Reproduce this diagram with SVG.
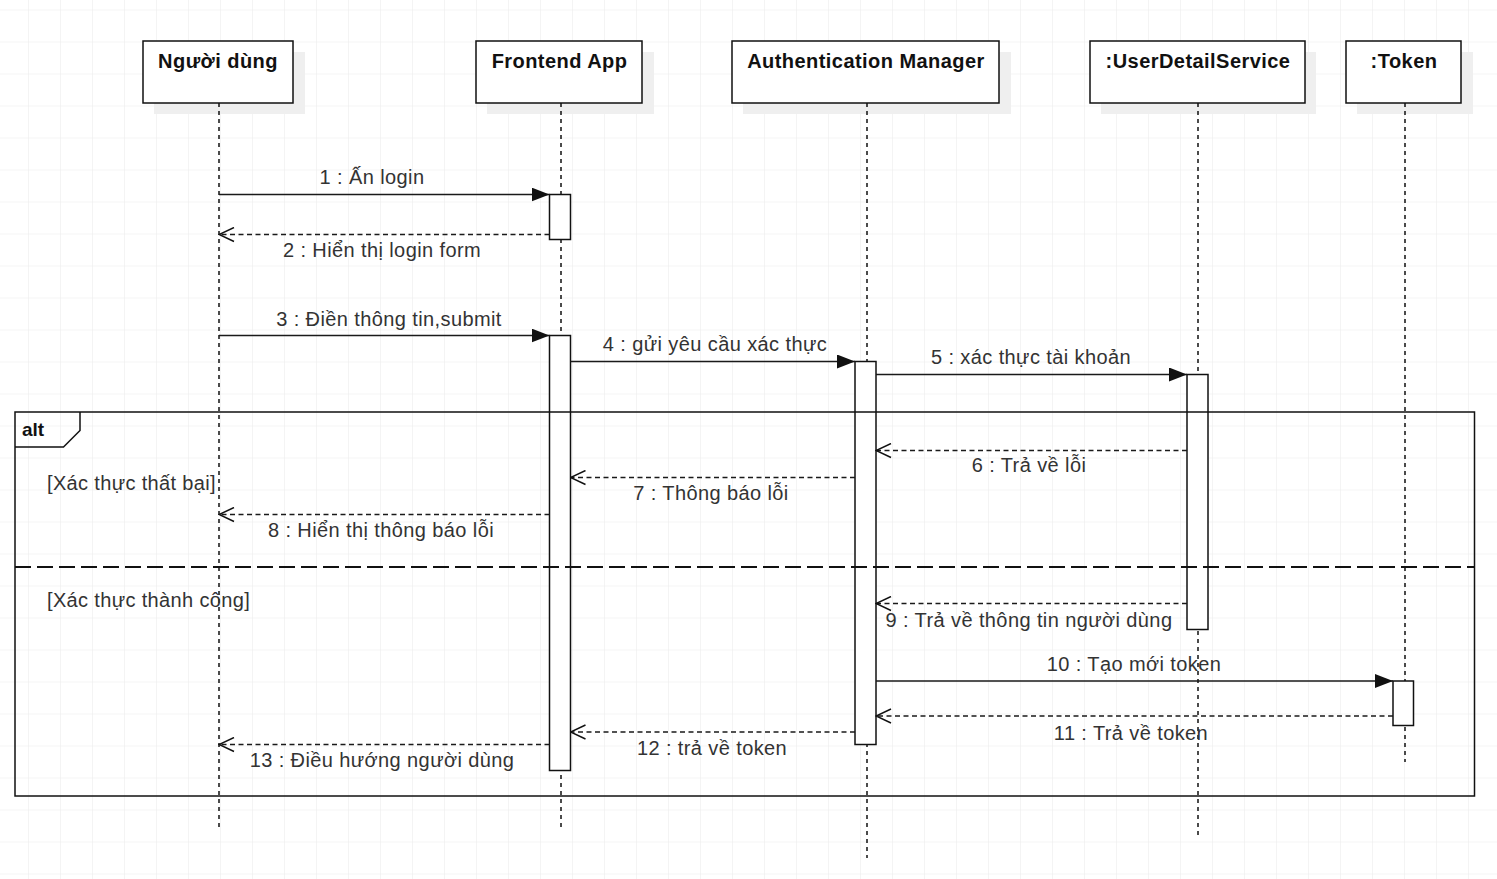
<svg xmlns="http://www.w3.org/2000/svg" width="1497" height="879" viewBox="0 0 1497 879">
<defs>
<pattern id="grid" x="28" y="9.5" width="32" height="32" patternUnits="userSpaceOnUse">
<path d="M0 0H32M0 0V32" fill="none" stroke="#e9e9e9" stroke-width="1"/>
</pattern>
<marker id="filled" viewBox="0 0 18 14" refX="18" refY="7" markerWidth="18" markerHeight="14" markerUnits="userSpaceOnUse" orient="auto">
<path d="M0 0L18 7L0 14Z" fill="#111"/>
</marker>
<marker id="open" viewBox="0 0 18 16" refX="17" refY="8" markerWidth="18" markerHeight="16" markerUnits="userSpaceOnUse" orient="auto">
<path d="M2 1L17 8L2 15" fill="none" stroke="#111" stroke-width="1.5"/>
</marker>
</defs>
<style>
.hdr{fill:#fff;stroke:#111;stroke-width:1.5}
.shadow{fill:#efefef;stroke:none}
.hdrtxt{font-family:"Liberation Sans",Arial,sans-serif;font-size:20px;font-weight:bold;fill:#111;text-anchor:middle;letter-spacing:0.45px}
.life{stroke:#111;stroke-width:1.5;stroke-dasharray:4 4;fill:none}
.act{fill:#fff;stroke:#111;stroke-width:1.5}
.msg{stroke:#1a1a1a;stroke-width:1.6;fill:none;marker-end:url(#filled)}
.ret{stroke:#1a1a1a;stroke-width:1.5;fill:none;stroke-dasharray:5 3.5;marker-end:url(#open)}
.lbl{font-family:"Liberation Sans",Arial,sans-serif;font-size:20px;fill:#333;text-anchor:middle;letter-spacing:0.4px}
.guard{font-family:"Liberation Sans",Arial,sans-serif;font-size:20px;fill:#333;letter-spacing:0.35px}
.frame{fill:none;stroke:#111;stroke-width:1.5}
</style>
<rect width="1497" height="879" fill="#fff"/>
<rect width="1497" height="879" fill="url(#grid)"/>

<g id="node-nguoidung">
<rect class="shadow" x="154" y="52" width="151" height="62"/>
<rect class="hdr" x="143" y="41" width="150" height="62"/>
<text class="hdrtxt" x="218" y="67.5">Người dùng</text>
<line class="life" x1="219" y1="103" x2="219" y2="830"/>
</g>

<g id="node-frontend">
<rect class="shadow" x="487" y="52" width="167" height="62"/>
<rect class="hdr" x="476" y="41" width="166" height="62"/>
<text class="hdrtxt" x="559.5" y="67.5">Frontend App</text>
<line class="life" x1="561" y1="103" x2="561" y2="830"/>
<rect class="act" x="549.5" y="194.5" width="21" height="45"/>
<rect class="act" x="549.5" y="335.5" width="21" height="435"/>
</g>

<g id="node-authmanager">
<rect class="shadow" x="743" y="52" width="268" height="62"/>
<rect class="hdr" x="732" y="41" width="267" height="62"/>
<text class="hdrtxt" x="866" y="67.5">Authentication Manager</text>
<line class="life" x1="867" y1="103" x2="867" y2="858"/>
<rect class="act" x="855" y="361.5" width="21" height="383"/>
</g>

<g id="node-userdetailservice">
<rect class="shadow" x="1101" y="52" width="215" height="62"/>
<rect class="hdr" x="1090" y="41" width="215" height="62"/>
<text class="hdrtxt" x="1198" y="67.5">:UserDetailService</text>
<line class="life" x1="1198" y1="103" x2="1198" y2="836"/>
<rect class="act" x="1187" y="374.5" width="21" height="255"/>
</g>

<g id="node-token">
<rect class="shadow" x="1357" y="52" width="116" height="62"/>
<rect class="hdr" x="1346" y="41" width="115" height="62"/>
<text class="hdrtxt" x="1404" y="67.5">:Token</text>
<line class="life" x1="1405" y1="103" x2="1405" y2="762"/>
<rect class="act" x="1393" y="681" width="20.5" height="44.5"/>
</g>

<g id="frame-alt">
<rect class="frame" x="15" y="412" width="1459.5" height="384"/>
<path class="frame" d="M15 447H63.5L80 430.5V412"/>
<text x="22" y="436" font-family="'Liberation Sans',Arial,sans-serif" font-size="19" font-weight="bold" fill="#111">alt</text>
<line x1="15" y1="567" x2="1474.5" y2="567" stroke="#111" stroke-width="2" stroke-dasharray="16 6"/>
<text class="guard" x="47" y="490">[Xác thực thất bại]</text>
<text class="guard" x="47" y="607">[Xác thực thành công]</text>
</g>

<g id="connectors">
<line class="msg" x1="219" y1="194.5" x2="549.5" y2="194.5"/>
<line class="ret" x1="549.5" y1="234.5" x2="219" y2="234.5"/>
<line class="msg" x1="219" y1="335.5" x2="549.5" y2="335.5"/>
<line class="msg" x1="570.5" y1="361.5" x2="855" y2="361.5"/>
<line class="msg" x1="876" y1="374.5" x2="1187" y2="374.5"/>
<line class="ret" x1="1187" y1="450.5" x2="876" y2="450.5"/>
<line class="ret" x1="855" y1="477.5" x2="570.5" y2="477.5"/>
<line class="ret" x1="549.5" y1="514.5" x2="219" y2="514.5"/>
<line class="ret" x1="1187" y1="603.5" x2="876" y2="603.5"/>
<line class="msg" x1="876" y1="681" x2="1393" y2="681"/>
<line class="ret" x1="1393" y1="716" x2="876" y2="716"/>
<line class="ret" x1="855" y1="732" x2="570.5" y2="732"/>
<line class="ret" x1="549.5" y1="744.5" x2="219" y2="744.5"/>
<text class="lbl" x="372" y="184">1 : Ấn login</text>
<text class="lbl" x="382" y="257">2 : Hiển thị login form</text>
<text class="lbl" x="389" y="326">3 : Điền thông tin,submit</text>
<text class="lbl" x="715" y="350.5">4 : gửi yêu cầu xác thực</text>
<text class="lbl" x="1031" y="364">5 : xác thực tài khoản</text>
<text class="lbl" x="1029" y="472">6 : Trả về lỗi</text>
<text class="lbl" x="711" y="499.5">7 : Thông báo lỗi</text>
<text class="lbl" x="381" y="537">8 : Hiển thị thông báo lỗi</text>
<text class="lbl" x="1029" y="626.5">9 : Trả về thông tin người dùng</text>
<text class="lbl" x="1134" y="671">10 : Tạo mới token</text>
<text class="lbl" x="1131" y="739.5">11 : Trả về token</text>
<text class="lbl" x="712" y="755">12 : trả về token</text>
<text class="lbl" x="382" y="767">13 : Điều hướng người dùng</text>
</g>
</svg>
